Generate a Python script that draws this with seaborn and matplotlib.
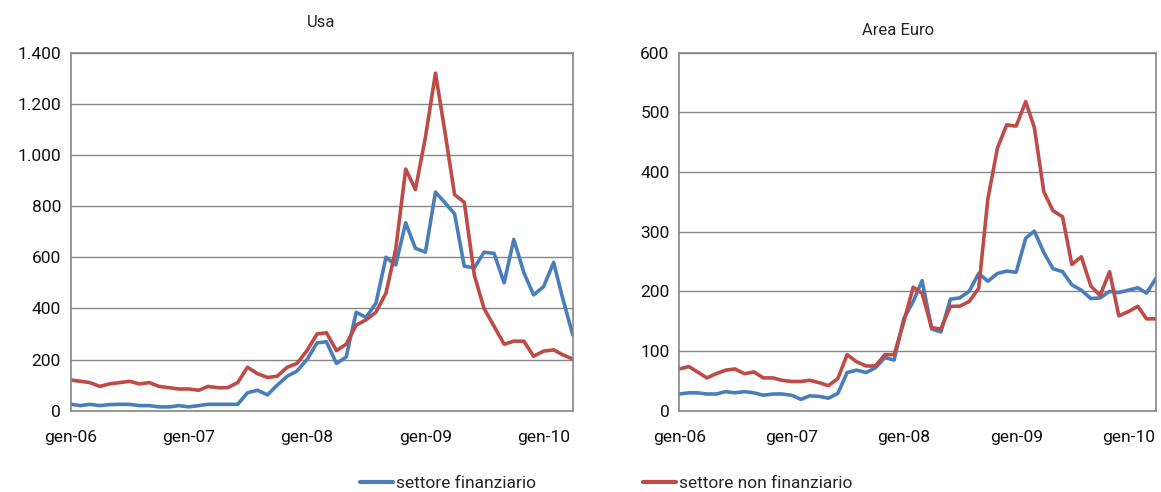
import pandas as pd
import matplotlib
matplotlib.use("Agg")
import matplotlib.pyplot as plt
import seaborn as sns

# monthly series, gen-06 .. apr-10
MONTHS = pd.date_range("2006-01-01", periods=52, freq="MS")

USA_FIN = [25, 20, 25, 20, 24, 25, 25, 20, 20, 15, 15, 20,
           15, 20, 25, 25, 25, 25, 70, 80, 62, 100, 135, 155,
           200, 265, 270, 185, 210, 385, 365, 420, 600, 570, 735, 635,
           620, 855, 815, 770, 565, 558, 620, 615, 500, 670, 540, 453,
           485, 580, 440, 297]
USA_NONFIN = [120, 115, 110, 95, 105, 110, 115, 105, 110, 95, 90, 85,
              85, 80, 95, 90, 90, 110, 170, 145, 130, 135, 170, 185,
              235, 300, 305, 235, 260, 335, 355, 385, 460, 630, 945, 865,
              1070, 1320, 1100, 845, 815, 530, 400, 330, 260, 272, 272, 213,
              233, 238, 219, 202]

EU_FIN = [28, 30, 30, 28, 28, 32, 30, 32, 30, 26, 28, 28,
          26, 19, 25, 24, 21, 29, 64, 68, 64, 72, 89, 85,
          154, 183, 218, 137, 132, 187, 189, 200, 230, 217, 230, 234,
          232, 289, 301, 265, 238, 233, 211, 202, 188, 189, 200, 198,
          202, 206, 197, 222]
EU_NONFIN = [70, 74, 65, 55, 62, 68, 70, 62, 65, 55, 55, 51,
             49, 49, 51, 47, 42, 54, 94, 82, 75, 75, 94, 94,
             148, 207, 197, 139, 137, 175, 175, 183, 205, 355, 440, 479,
             477, 518, 475, 367, 335, 325, 245, 258, 209, 193, 233, 159,
             166, 175, 154, 154]

SERIES = ["settore finanziario", "settore non finanziario"]
COLORS = ["#4A7EBB", "#BE4B48"]
TITLES = ["Usa", "Area Euro"]
YTICKS_USA = [0, 200, 400, 600, 800, 1000, 1200, 1400]
YLABELS_USA = ["0", "200", "400", "600", "800", "1.000", "1.200", "1.400"]
YTICKS_EU = [0, 100, 200, 300, 400, 500, 600]
YLABELS_EU = ["0", "100", "200", "300", "400", "500", "600"]


def long_df(fin, nonfin):
    return pd.DataFrame({
        "data": list(MONTHS) * 2,
        "valore": fin + nonfin,
        "serie": [SERIES[0]] * len(fin) + [SERIES[1]] * len(nonfin),
    })


sns.set_style("white")
plt.rcParams["font.family"] = ["Roboto", "DejaVu Sans"]
GRAY = "#868686"

fig = plt.figure(figsize=(11.61, 4.92), dpi=100)
ax1 = fig.add_axes([0.0609, 0.1652, 0.4324, 0.7277])
ax2 = fig.add_axes([0.5851, 0.1652, 0.4106, 0.7277])

panels = [
    (ax1, long_df(USA_FIN, USA_NONFIN), YTICKS_USA, YLABELS_USA),
    (ax2, long_df(EU_FIN, EU_NONFIN), YTICKS_EU, YLABELS_EU),
]

xticks = MONTHS[::6]
xlabels = [f"gen-{d.strftime('%y')}" if d.month == 1 else "" for d in xticks]

for ax, df, yt, yl in panels:
    sns.lineplot(data=df, x="data", y="valore", hue="serie",
                 palette=COLORS, linewidth=2.6, legend=False, ax=ax)
    ax.set_xlim(MONTHS[0], MONTHS[-1])
    ax.set_ylim(yt[0], yt[-1])
    ax.set_yticks(yt)
    ax.set_yticklabels(yl)
    ax.set_xticks(xticks)
    ax.set_xticklabels(xlabels)
    ax.set_xlabel("")
    ax.set_ylabel("")
    ax.grid(axis="y", color=GRAY, linewidth=1.0)
    ax.set_axisbelow(True)
    for s in ax.spines.values():
        s.set_color(GRAY)
        s.set_linewidth(1.2)
    ax.tick_params(axis="both", direction="out", length=4, width=1.0,
                   color=GRAY, labelsize=12.5, labelcolor="#111111", pad=3)
    ax.tick_params(axis="x", pad=10)

fig.text(0.2765, 0.955, TITLES[0], ha="center", va="center", fontsize=12)
fig.text(0.7735, 0.937, TITLES[1], ha="center", va="center", fontsize=12)

handles = [plt.Line2D([], [], color=c, linewidth=3) for c in COLORS]
fig.legend(handles, SERIES, loc="center", bbox_to_anchor=(0.522, 0.017),
           ncol=2, frameon=False, fontsize=12.5, handlelength=1.9,
           handletextpad=0.15, columnspacing=6.2)

fig.savefig("out.png", dpi=100)
